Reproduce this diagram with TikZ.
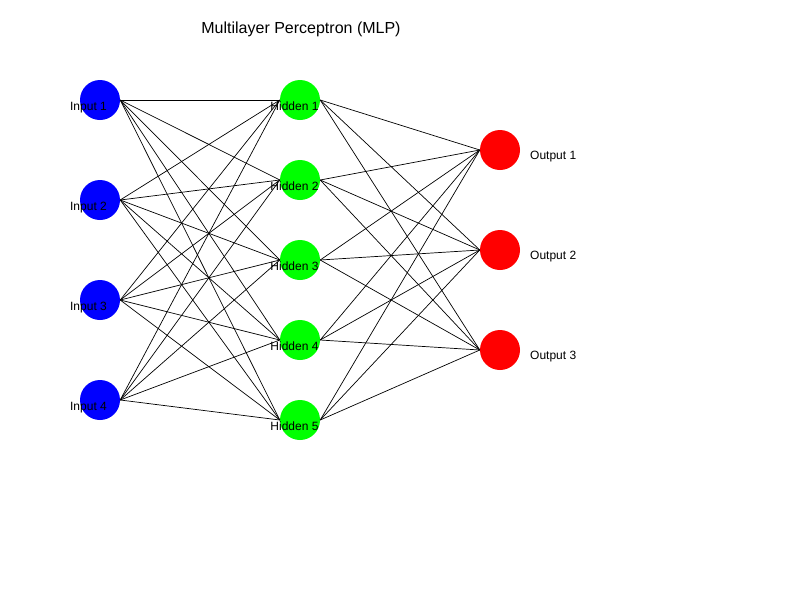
\documentclass[tikz,border=0pt]{standalone}
\usepackage{fontspec}
\setmainfont{Liberation Sans}
\usetikzlibrary{positioning}
\definecolor{inblue}{RGB}{0,0,255}
\definecolor{hidgreen}{RGB}{0,255,0}
\definecolor{outred}{RGB}{255,0,0}

\begin{document}
\begin{tikzpicture}[x=1pt, y=-1pt,
  neuron/.style={circle, minimum size=40pt, inner sep=0pt, draw=none},
  lbl/.style={font=\fontsize{12}{14}\selectfont, inner sep=0pt, anchor=base},
  wire/.style={line width=0.7pt, black}]
\useasboundingbox (0,0) rectangle (800,600);
\node[font=\fontsize{16}{19}\selectfont, inner sep=0pt, anchor=base] (title) at (301,33) {Multilayer Perceptron (MLP)};
% layers
\foreach \i/\y in {1/100,2/200,3/300,4/400}
  \node[neuron, fill=inblue] (in\i) at (100,\y) {};
\foreach \j/\y in {1/100,2/180,3/260,4/340,5/420}
  \node[neuron, fill=hidgreen] (hid\j) at (300,\y) {};
\foreach \k/\y in {1/150,2/250,3/350}
  \node[neuron, fill=outred] (out\k) at (500,\y) {};
% connections
\foreach \i in {1,...,4}
  \foreach \j in {1,...,5}
    \draw[wire] (in\i.east) -- (hid\j.west);
\foreach \j in {1,...,5}
  \foreach \k in {1,...,3}
    \draw[wire] (hid\j.east) -- (out\k.west);
% labels
\foreach \i/\y in {1/110,2/210,3/310,4/410}
  \node[lbl] (inlbl\i) at (88.5,\y) {Input \i};
\foreach \j/\y in {1/110,2/190,3/270,4/350,5/430}
  \node[lbl] (hidlbl\j) at (294.5,\y) {Hidden \j};
\foreach \k/\y in {1/159.5,2/259.5,3/359.5}
  \node[lbl, anchor=base west] (outlbl\k) at (530,\y) {Output \k};
\end{tikzpicture}
\end{document}
